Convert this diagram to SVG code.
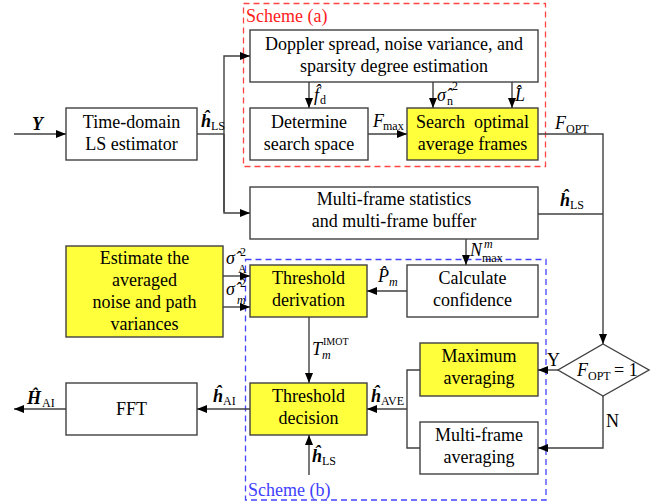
<svg xmlns="http://www.w3.org/2000/svg" width="665" height="504" viewBox="0 0 665 504">
<defs>
<marker id="ah" viewBox="0 0 10 8" refX="10" refY="4" markerWidth="10" markerHeight="8" markerUnits="userSpaceOnUse" orient="auto">
<path d="M0,0 L10,4 L0,8 Z" fill="#000"/>
</marker>
<style>
.box{fill:#fff;stroke:#404040;stroke-width:1.4}
.yel{fill:#ffff3c;stroke:#404040;stroke-width:1.4}
.ln{fill:none;stroke:#404040;stroke-width:1.4}
.arr{fill:none;stroke:#404040;stroke-width:1.4;marker-end:url(#ah)}
.c{text-anchor:middle}
.i{font-style:italic}
.b{font-weight:bold;font-style:italic}
.s{font-size:12px;font-style:normal;font-weight:normal}
.si{font-size:12px;font-style:italic;font-weight:normal}
.xs{font-size:10px;font-style:normal}
</style>
</defs>
<rect width="665" height="504" fill="#fff"/>
<g font-family="Liberation Serif" font-size="18">

<g id="schemeA">
<rect x="243.5" y="3.5" width="302" height="163" fill="none" stroke="#ff4444" stroke-width="1.3" stroke-dasharray="6,4"/>
<text x="246" y="22" fill="#ff2020">Scheme (a)</text>
</g>
<g id="schemeB">
<rect x="245.5" y="259.5" width="300.5" height="240.5" fill="none" stroke="#4444ff" stroke-width="1.3" stroke-dasharray="6,4"/>
<text x="248" y="496" fill="#4040ff">Scheme (b)</text>
</g>

<g id="ls">
<rect class="box" x="66" y="108" width="131" height="52"/>
<text class="c" x="131.5" y="128">Time-domain</text>
<text class="c" x="131.5" y="150">LS estimator</text>
</g>
<g id="doppler">
<rect class="box" x="250" y="30" width="288" height="52"/>
<text class="c" x="394" y="50">Doppler spread, noise variance, and</text>
<text class="c" x="394" y="72">sparsity degree estimation</text>
</g>
<g id="determine">
<rect class="box" x="250" y="108" width="118" height="52"/>
<text class="c" x="309" y="128">Determine</text>
<text class="c" x="309" y="150">search space</text>
</g>
<g id="search">
<rect class="yel" x="407" y="108" width="131" height="52"/>
<text class="c" x="472.5" y="128" xml:space="preserve">Search  optimal</text>
<text class="c" x="472.5" y="150">average frames</text>
</g>
<g id="multistat">
<rect class="box" x="250" y="187" width="288" height="52"/>
<text class="c" x="394" y="205">Multi-frame statistics</text>
<text class="c" x="394" y="227">and multi-frame buffer</text>
</g>
<g id="estimate">
<rect class="yel" x="66" y="246" width="157" height="91"/>
<text class="c" x="144.5" y="264">Estimate the</text>
<text class="c" x="144.5" y="286">averaged</text>
<text class="c" x="144.5" y="308">noise and path</text>
<text class="c" x="144.5" y="330">variances</text>
</g>
<g id="thderiv">
<rect class="yel" x="250" y="265" width="117" height="52"/>
<text class="c" x="308.5" y="284">Threshold</text>
<text class="c" x="308.5" y="306">derivation</text>
</g>
<g id="confidence">
<rect class="box" x="407" y="265" width="131" height="52"/>
<text class="c" x="472.5" y="284">Calculate</text>
<text class="c" x="472.5" y="306">confidence</text>
</g>
<g id="thdec">
<rect class="yel" x="250" y="383" width="117" height="52"/>
<text class="c" x="308.5" y="402">Threshold</text>
<text class="c" x="308.5" y="424">decision</text>
</g>
<g id="fft">
<rect class="box" x="66" y="383" width="131" height="52"/>
<text class="c" x="131.5" y="415">FFT</text>
</g>
<g id="maxavg">
<rect class="yel" x="420" y="343" width="118" height="53"/>
<text class="c" x="479" y="362">Maximum</text>
<text class="c" x="479" y="384">averaging</text>
</g>
<g id="mfavg">
<rect class="box" x="420" y="422" width="118" height="52"/>
<text class="c" x="479" y="441">Multi-frame</text>
<text class="c" x="479" y="463">averaging</text>
</g>
<g id="decision">
<polygon class="box" points="603,344 649,370 603,396 558,370"/>
<text x="577" y="376" class="i">F</text>
<text x="588" y="380" class="s">OPT</text>
<text x="614" y="376">= 1</text>
</g>

<g id="connectors">
<line class="arr" x1="14" y1="134" x2="66" y2="134"/>
<polyline class="ln" points="197,134 224,134"/>
<polyline class="arr" points="224,212 224,56 250,56"/>
<polyline class="arr" points="224,134 224,213 250,213"/>
<line class="arr" x1="309" y1="82" x2="309" y2="108"/>
<line class="arr" x1="433" y1="82" x2="433" y2="108"/>
<line class="arr" x1="512" y1="82" x2="512" y2="108"/>
<line class="arr" x1="368" y1="134" x2="407" y2="134"/>
<polyline class="arr" points="538,134 603,134 603,344"/>
<line class="ln" x1="538" y1="214" x2="603" y2="214"/>
<line class="arr" x1="466" y1="239" x2="466" y2="265"/>
<line class="arr" x1="223" y1="276" x2="250" y2="276"/>
<line class="arr" x1="223" y1="307" x2="250" y2="307"/>
<line class="arr" x1="407" y1="291" x2="367" y2="291"/>
<line class="arr" x1="309" y1="317" x2="309" y2="383"/>
<line class="arr" x1="309" y1="475" x2="309" y2="435"/>
<line class="arr" x1="250" y1="409" x2="197" y2="409"/>
<line class="arr" x1="66" y1="409" x2="14" y2="409"/>
<polyline class="ln" points="420,370 407,370 407,448 420,448"/>
<line class="arr" x1="407" y1="409" x2="367" y2="409"/>
<line class="arr" x1="558" y1="370" x2="538" y2="370"/>
<polyline class="arr" points="603,396 603,448 538,448"/>
</g>

<g id="labels">
<text x="32" y="130" class="b">Y</text>
<text x="201" y="127" class="b">ĥ</text><text x="211" y="130" class="s">LS</text>
<text x="314" y="101" class="i">f̂</text><text x="320" y="104" class="s">d</text>
<text x="437" y="101" class="i">σ̂</text><text x="447" y="105" class="s">n</text><text x="452" y="90" class="s">2</text>
<text x="515" y="101" class="i">L̂</text>
<text x="373" y="127" class="i">F</text><text x="383" y="130" class="s">max</text>
<text x="555" y="129" class="i">F</text><text x="566" y="133" class="s">OPT</text>
<text x="560" y="206" class="b">ĥ</text><text x="570" y="209" class="s">LS</text>
<text x="470" y="256" class="i">N</text><text x="482" y="262" class="s">max</text><text x="484" y="248" class="si">m</text>
<text x="226" y="264" class="i">σ̂</text><text x="240" y="256" class="s">2</text><text x="238" y="273" class="s">A</text>
<text x="226" y="295" class="i">σ̂</text><text x="240" y="287" class="s">2</text><text x="237" y="304" class="si">m</text>
<text x="378" y="282" class="i">P̂</text><text x="389" y="286" class="si">m</text>
<text x="312" y="355" class="i">T</text><text x="322" y="359" class="si">m</text><text x="323" y="345" class="xs">IMOT</text>
<text x="213" y="402" class="b">ĥ</text><text x="223" y="405" class="s">AI</text>
<text x="27" y="404" class="b">Ĥ</text><text x="42" y="407" class="s">AI</text>
<text x="371" y="402" class="b">ĥ</text><text x="381" y="405" class="s">AVE</text>
<text x="312" y="462" class="b">ĥ</text><text x="322" y="465" class="s">LS</text>
<text x="547" y="366">Y</text>
<text x="606" y="427">N</text>
</g>
</g>
</svg>
